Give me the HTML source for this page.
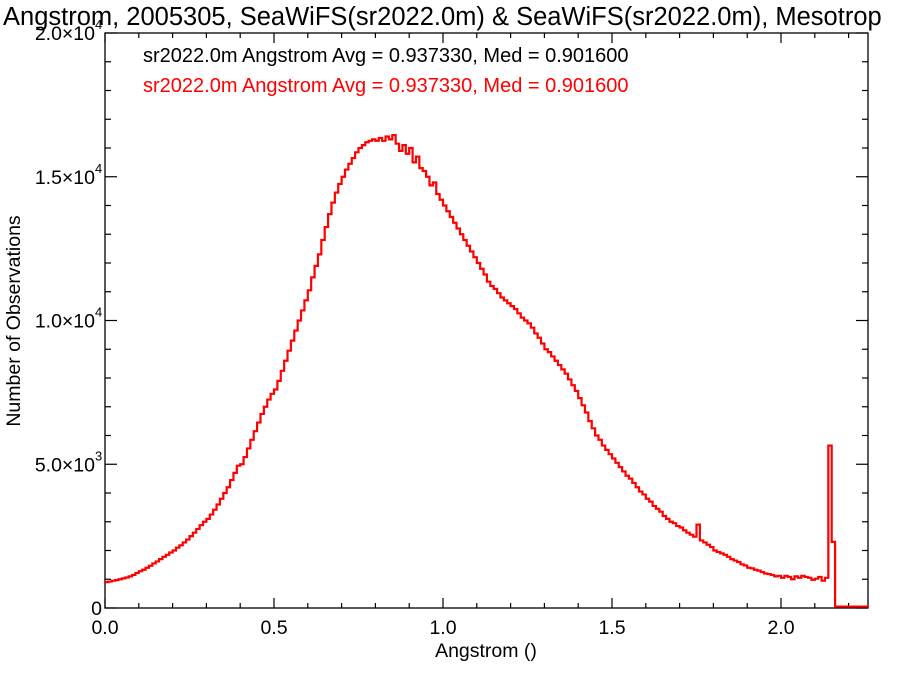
<!DOCTYPE html>
<html><head><meta charset="utf-8"><style>
html,body{margin:0;padding:0;background:#fff;}
svg{display:block;font-family:"Liberation Sans",sans-serif;}
</style></head><body>
<svg id="chart" width="900" height="675">
<text x="3" y="25" font-size="25.5" fill="#000">Angstrom, 2005305, SeaWiFS(sr2022.0m) &amp; SeaWiFS(sr2022.0m), Mesotrop</text>
<text x="143" y="62" font-size="20" fill="#000">sr2022.0m Angstrom Avg = 0.937330, Med = 0.901600</text>
<text x="143" y="92" font-size="20" fill="#ff0000">sr2022.0m Angstrom Avg = 0.937330, Med = 0.901600</text>
<text x="486" y="657" font-size="19.5" text-anchor="middle">Angstrom ()</text>
<text transform="translate(20,321) rotate(-90)" font-size="19.5" text-anchor="middle">Number of Observations</text>
<g id="axes"></g>
<g id="series"></g>
</svg>
<script>
const binStart = 0.0;
const binWidth = 0.01;
const counts = [
0.90,0.92,0.95,0.97,1.00,1.03,1.06,1.10,1.15,1.22,
1.28,1.33,1.40,1.47,1.55,1.62,1.70,1.78,1.85,1.93,
2.00,2.10,2.18,2.28,2.38,2.50,2.62,2.75,2.88,3.00,
3.10,3.25,3.42,3.60,3.80,4.00,4.20,4.45,4.70,4.95,
5.00,5.25,5.55,5.85,6.15,6.45,6.75,7.00,7.25,7.45,
7.60,7.90,8.25,8.60,8.95,9.30,9.65,10.00,10.35,10.70,
11.05,11.50,11.90,12.30,12.80,13.25,13.70,14.10,14.45,14.75,
15.00,15.25,15.45,15.65,15.85,16.00,16.10,16.20,16.25,16.30,
16.25,16.35,16.25,16.40,16.30,16.45,16.15,15.90,16.10,15.80,
16.00,15.50,15.70,15.30,15.20,15.00,14.70,14.80,14.40,14.20,
14.00,13.80,13.60,13.40,13.20,13.00,12.80,12.60,12.40,12.20,
12.00,11.80,11.60,11.35,11.20,11.10,10.95,10.80,10.70,10.60,
10.50,10.40,10.25,10.10,10.00,9.90,9.75,9.55,9.40,9.20,
9.00,8.90,8.75,8.60,8.45,8.30,8.15,7.95,7.75,7.55,
7.30,7.05,6.80,6.50,6.25,6.00,5.85,5.65,5.50,5.35,
5.20,5.05,4.90,4.75,4.60,4.50,4.35,4.20,4.05,3.95,
3.80,3.70,3.55,3.45,3.35,3.20,3.10,3.00,2.95,2.85,
2.80,2.70,2.62,2.55,2.48,2.90,2.35,2.28,2.20,2.12,
2.00,1.95,1.90,1.85,1.78,1.70,1.65,1.60,1.52,1.48,
1.40,1.38,1.33,1.30,1.25,1.20,1.18,1.15,1.10,1.12,
1.05,1.12,1.08,1.00,1.10,1.05,1.12,1.08,1.05,0.98,
1.02,1.08,0.95,1.05,5.65,2.30,0.05,0.05,0.05,0.05,
0.05,0.05,0.05,0.05,0.05,0.05
].map(v => v * 1000);
const xTicks = [0.0, 0.5, 1.0, 1.5, 2.0];
const xTickLabels = ["0.0", "0.5", "1.0", "1.5", "2.0"];
const yTicks = [0, 5000, 10000, 15000, 20000];
const yTickLabels = ["0", "5.0×10", "1.0×10", "1.5×10", "2.0×10"];
const yTickExp = ["", "3", "4", "4", "4"];

const L = 105, R = 868, T = 33, B = 608;
const xMin = 0, xMax = (R - L) / 338, yMin = 0, yMax = 20000;
const sx = v => L + (v - xMin) / (xMax - xMin) * (R - L);
const sy = v => B - (v - yMin) / (yMax - yMin) * (B - T);
const NS = "http://www.w3.org/2000/svg";
const axes = document.getElementById("axes");
const series = document.getElementById("series");
function mk(tag, attrs, parent) {
  const e = document.createElementNS(NS, tag);
  for (const k in attrs) e.setAttribute(k, attrs[k]);
  parent.appendChild(e);
  return e;
}
const frame = mk("rect", {x: L, y: T, width: R - L, height: B - T, fill: "none", stroke: "#000", "stroke-width": 1.3}, axes);


for (let v = 0; v <= xMax + 1e-9; v += 0.1) {
  const major = Math.abs(v * 2 - Math.round(v * 2)) < 1e-6;
  const len = major ? 10 : 5;
  const t1 = mk("line", {x1: sx(v), x2: sx(v), y1: B, y2: B - len, stroke: "#000", "stroke-width": 1.2}, axes);
  
  
  const t2 = mk("line", {x1: sx(v), x2: sx(v), y1: T, y2: T + len, stroke: "#000", "stroke-width": 1.2}, axes);
  
  
}
for (let v = 0; v <= yMax; v += 1000) {
  const len = (v % 5000 === 0) ? 12 : 6;
  const t1 = mk("line", {x1: L, x2: L + len, y1: sy(v), y2: sy(v), stroke: "#000", "stroke-width": 1.2}, axes);
  
  
  const t2 = mk("line", {x1: R, x2: R - len, y1: sy(v), y2: sy(v), stroke: "#000", "stroke-width": 1.2}, axes);
  
  
}
xTicks.forEach((v, i) => {
  const t = mk("text", {x: sx(v), y: 634, "font-size": 19.5, "text-anchor": "middle"}, axes);
  t.textContent = xTickLabels[i];
  
  
});
yTicks.forEach((v, i) => {
  const t = mk("text", {x: L - (yTickExp[i] ? 10 : 3), y: sy(v) + 7, "font-size": 19.5, "text-anchor": "end"}, axes);
  t.textContent = yTickLabels[i];
  
  
  if (yTickExp[i]) {
    const e = mk("text", {x: L - 10, y: sy(v) - 4, "font-size": 13}, axes);
    e.textContent = yTickExp[i];
    
    
  }
});
let d = "M" + sx(binStart) + "," + sy(counts[0]);
counts.forEach((c, i) => {
  const x0 = sx(binStart + i * binWidth), x1 = sx(binStart + (i + 1) * binWidth);
  d += " L" + x0.toFixed(2) + "," + sy(c).toFixed(2) + " L" + x1.toFixed(2) + "," + sy(c).toFixed(2);
});
const p = mk("path", {d: d, fill: "none", stroke: "#ff0000", "stroke-width": 2.2, "stroke-linejoin": "miter"}, series);


</script>
</body></html>
